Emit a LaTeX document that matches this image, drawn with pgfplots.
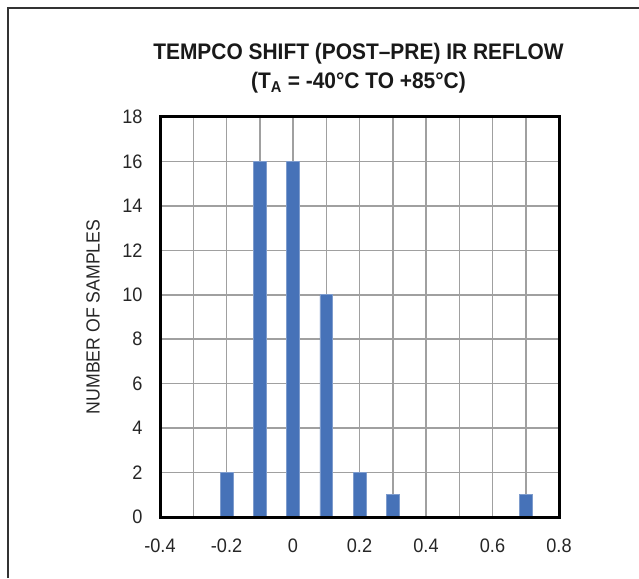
\documentclass[border=0pt]{standalone}
\usepackage{pgfplots}
\pgfplotsset{compat=1.18}
\usepackage{fontspec}
\setmainfont{Liberation Sans}[Ligatures=TeX]
\newfontfamily\narrowfont{Liberation Sans}[FakeStretch=0.93,Ligatures=TeX]
\definecolor{barblue}{RGB}{70,114,184}
\definecolor{gridgray}{RGB}{160,160,160}
\begin{document}
\begin{tikzpicture}[x=1pt,y=1pt]
\useasboundingbox (0,0) rectangle (639,578);
\draw[line width=1.5pt, color=black!80] (8,0) -- (8,570) -- (639,570);
\node[anchor=base, font=\narrowfont\bfseries\fontsize{22.5}{26}\selectfont, color=black!90] at (358.5,518) {TEMPCO SHIFT (POST–PRE) IR REFLOW};
\node[anchor=base, font=\narrowfont\bfseries\fontsize{22.5}{26}\selectfont, color=black!90] at (358.5,489) {(T\textsubscript{A} = -40°C TO +85°C)};
\begin{axis}[
  at={(160pt,61pt)}, anchor=south west,
  scale only axis, width=399pt, height=400pt,
  xmin=-0.4, xmax=0.8, ymin=0, ymax=18,
  xtick={-0.4,-0.3,-0.2,-0.1,0,0.1,0.2,0.3,0.4,0.5,0.6,0.7,0.8},
  xticklabels={-0.4,,-0.2,,0,,0.2,,0.4,,0.6,,0.8},
  ytick={0,2,4,6,8,10,12,14,16,18},
  major tick length=0pt,
  grid=major,
  grid style={line width=1.5pt, color=gridgray},
  axis line style={draw=none},
  tick label style={font=\narrowfont\fontsize{19.5}{23}\selectfont, color=black!85},
  /pgf/number format/assume math mode=true,
  xticklabel style={yshift=-18pt},
  yticklabel style={xshift=-14pt},
  ylabel={NUMBER OF SAMPLES},
  every axis y label/.style={at={(rel axis cs:0,0.5)}, rotate=90, anchor=center, yshift=67pt, font=\narrowfont\fontsize{19}{23}\selectfont, color=black!85},
  ybar, bar width=12.7pt, bar shift=0pt,
  clip=false,
]
\addplot[fill=barblue, draw=barblue!70!white, line width=0.6pt] coordinates {
  (-0.2,2) (-0.1,16) (0,16) (0.1,10) (0.2,2) (0.3,1) (0.7,1)
};
\draw[line width=3pt, black] (rel axis cs:0,0) rectangle (rel axis cs:1,1);
\end{axis}
\end{tikzpicture}
\end{document}
